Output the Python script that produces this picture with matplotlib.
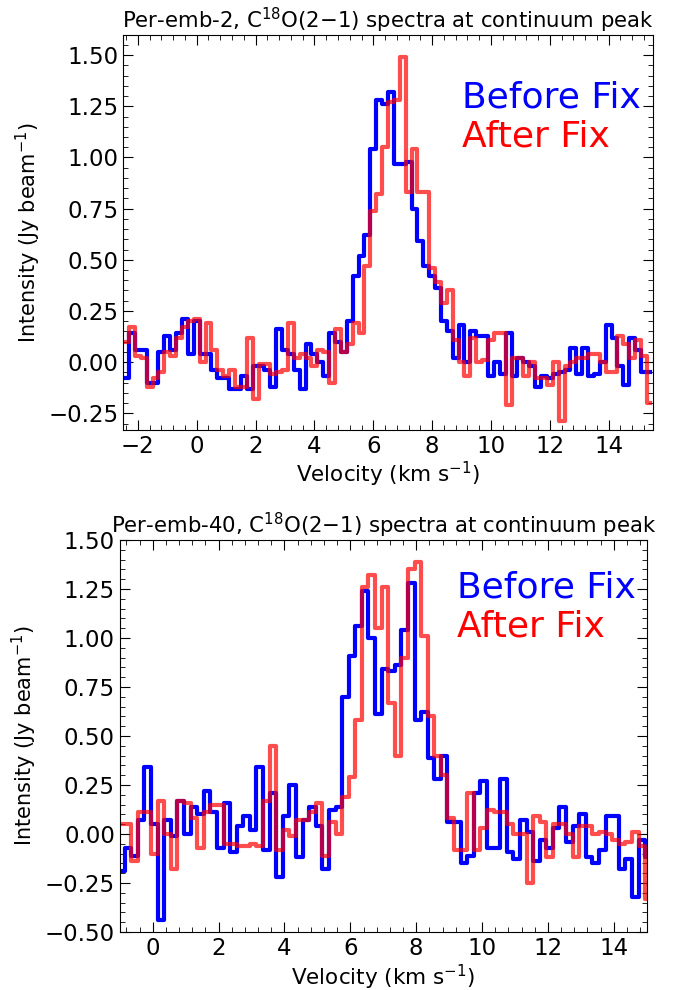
import numpy as np
import matplotlib
matplotlib.use("Agg")
import matplotlib.pyplot as plt
from matplotlib.ticker import MultipleLocator, AutoMinorLocator

# Per-emb-2 spectra (0.2 km/s channels, first centre -2.4 km/s)
before_top = [-0.08, 0.14, 0.06, 0.06, -0.10, -0.10, 0.05, 0.13, 0.06, 0.14,
              0.21, 0.04, 0.20, 0.04, 0.04, -0.04, -0.08, -0.08, -0.13, -0.13,
              -0.07, -0.13, -0.02, -0.02, -0.04, -0.12, 0.16, 0.06, 0.04, -0.04,
              -0.13, 0.09, 0.04, 0.00, -0.07, 0.14, 0.10, 0.05, 0.20, 0.42,
              0.52, 0.62, 1.04, 1.28, 1.26, 1.32, 0.97, 0.97, 0.98, 0.75,
              0.59, 0.47, 0.42, 0.36, 0.20, 0.15, 0.02, 0.18, 0.00, 0.15,
              0.13, 0.13, -0.07, 0.00, -0.06, 0.14, -0.07, 0.02, 0.00, -0.02,
              -0.12, -0.07, -0.08, -0.06, -0.05, -0.04, 0.07, -0.06, 0.07, -0.07,
              -0.06, 0.00, 0.18, 0.12, -0.02, -0.11, 0.12, 0.06, -0.05, -0.05]
after_top = [0.10, 0.17, 0.03, 0.02, -0.12, -0.08, -0.05, 0.05, 0.03, 0.12,
             0.17, 0.20, 0.21, 0.00, 0.19, 0.06, -0.04, -0.07, -0.04, -0.12,
             -0.12, 0.12, -0.18, -0.01, -0.01, -0.06, -0.05, -0.04, 0.19, 0.02,
             0.04, 0.02, -0.02, 0.06, 0.05, -0.10, 0.16, 0.05, 0.09, 0.19,
             0.14, 0.47, 0.74, 0.82, 1.05, 1.27, 1.28, 1.49, 0.83, 1.04,
             0.83, 0.83, 0.46, 0.39, 0.29, 0.35, 0.11, 0.00, -0.07, 0.12,
             0.00, 0.01, 0.11, 0.14, 0.14, -0.21, 0.02, 0.02, -0.07, 0.00,
             -0.08, -0.08, -0.11, 0.00, -0.29, -0.02, 0.00, 0.02, 0.02, 0.04,
             0.04, 0.00, -0.05, -0.05, 0.13, 0.09, 0.02, 0.11, 0.03, -0.20]

# Per-emb-40 spectra (0.2 km/s channels, first centre -0.95 km/s)
before_bot = [-0.19, -0.07, -0.11, 0.07, 0.34, 0.05, -0.44, 0.07, -0.01, 0.17,
              0.00, 0.14, 0.10, 0.22, 0.11, -0.07, 0.16, -0.09, 0.04, 0.09,
              0.02, 0.34, -0.08, 0.21, -0.22, 0.09, 0.25, -0.12, 0.07, 0.14,
              0.04, -0.18, 0.12, 0.14, 0.70, 0.91, 1.06, 1.24, 1.00, 0.61,
              0.84, 0.83, 0.86, 1.04, 1.28, 0.58, 0.62, 0.39, 0.28, 0.40,
              0.06, 0.06, -0.15, -0.11, 0.21, 0.27, -0.07, -0.07, 0.28, -0.09,
              -0.13, 0.07, 0.01, -0.14, -0.03, -0.07, 0.03, 0.14, -0.04, 0.04,
              0.10, -0.12, -0.15, -0.08, 0.09, 0.09, -0.18, -0.13, -0.32, -0.03,
              -0.12]
after_bot = [0.05, 0.05, -0.14, 0.11, 0.11, -0.10, 0.17, 0.00, -0.18, 0.17,
             0.16, 0.08, -0.07, 0.11, 0.15, 0.15, -0.05, -0.05, -0.06, -0.06,
             -0.05, -0.06, 0.17, 0.45, -0.08, 0.02, -0.01, 0.07, 0.07, 0.11,
             0.16, -0.11, 0.06, 0.00, 0.19, 0.29, 0.58, 1.26, 1.32, 1.05,
             1.26, 0.67, 0.40, 0.90, 1.35, 1.39, 1.01, 0.60, 0.40, 0.30,
             0.08, -0.08, -0.08, 0.21, -0.08, 0.03, 0.12, 0.11, 0.11, 0.05,
             0.00, 0.00, -0.25, 0.09, 0.06, -0.12, 0.05, 0.05, 0.00, -0.12,
             0.04, 0.04, 0.00, 0.01, 0.00, -0.03, -0.05, -0.04, 0.01, -0.06,
             -0.33]

chan = 0.2
v_top = -2.4 + chan * np.arange(len(before_top))
v_bot = -0.95 + chan * np.arange(len(before_bot))

titles = ["Per-emb-2, C$^{18}$O(2$-$1) spectra at continuum peak",
          "Per-emb-40, C$^{18}$O(2$-$1) spectra at continuum peak"]


def panel(ax, v, before, after, title, xlim, ylim, txt_xy, dy):
    ax.plot(v, before, drawstyle="steps-mid", color="blue", lw=3)
    ax.plot(v, after, drawstyle="steps-mid", color="red", lw=3, alpha=0.7)
    ax.set_xlim(*xlim)
    ax.set_ylim(*ylim)
    ax.xaxis.set_major_locator(MultipleLocator(2))
    ax.yaxis.set_major_locator(MultipleLocator(0.25))
    ax.yaxis.set_major_formatter(plt.FormatStrFormatter("%.2f"))
    ax.xaxis.set_minor_locator(AutoMinorLocator(5))
    ax.yaxis.set_minor_locator(AutoMinorLocator(5))
    ax.tick_params(which="both", direction="in", top=True, right=True, labelsize=16.5)
    ax.tick_params(which="major", length=7)
    ax.tick_params(which="minor", length=3.5)
    ax.set_xlabel("Velocity (km s$^{-1}$)", fontsize=15.5, labelpad=2)
    ax.set_ylabel("Intensity (Jy beam$^{-1}$)", fontsize=15)
    ax.set_title(title, fontsize=15.3, pad=5)
    ax.text(txt_xy[0], txt_xy[1], "Before Fix", color="blue", fontsize=26,
            transform=ax.transAxes)
    ax.text(txt_xy[0], txt_xy[1] - dy, "After Fix", color="red", fontsize=26,
            transform=ax.transAxes)
    ax.set_yticklabels([t.get_text().replace("-", "\u2212") for t in ax.get_yticklabels()])


fig = plt.figure(figsize=(6.73, 9.9), dpi=100)
ax1 = fig.add_axes([0.183, 0.566, 0.787, 0.399])
ax2 = fig.add_axes([0.178, 0.0586, 0.783, 0.396])

panel(ax1, v_top, before_top, after_top, titles[0], (-2.5, 15.5), (-0.33, 1.6),
      (0.64, 0.815), 0.098)
panel(ax2, v_bot, before_bot, after_bot, titles[1], (-1, 15), (-0.5, 1.5),
      (0.64, 0.852), 0.099)

fig.savefig("out.png", dpi=100)
